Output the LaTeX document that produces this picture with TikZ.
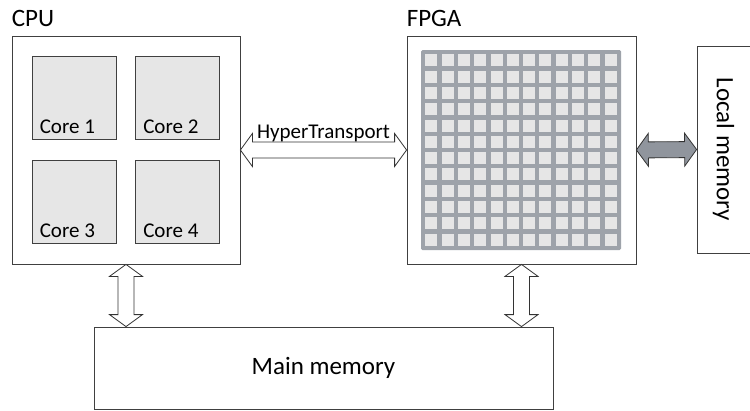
\documentclass[tikz,border=0pt]{standalone}
\usepackage{fontspec}
\setmainfont{Carlito}
\usepackage{tikz}
\usetikzlibrary{calc}
\usetikzlibrary{positioning}
\definecolor{coregray}{RGB}{230,230,230}
\definecolor{gridgray}{RGB}{158,163,170}
\definecolor{linkgray}{RGB}{144,149,157}
\def\headlen{12pt}
\def\headwd{16.5pt}
\def\shaftwd{8pt}
\tikzset{basic/.style={draw=black!75,line width=0.8pt,inner sep=0pt}}
\tikzset{chip/.style={basic,fill=white,minimum width=228pt,minimum height=228pt}}
\tikzset{core/.style={basic,fill=coregray,minimum width=84pt,minimum height=83pt}}
\tikzset{fat arrow/.style={draw=black!80,line width=0.8pt,fill=white,
  to path={-- ($(\tikztostart)!\headlen!(\tikztotarget)!\headwd!90:(\tikztotarget)$)
           -- ($(\tikztostart)!\headlen!(\tikztotarget)!\shaftwd!90:(\tikztotarget)$)
           -- ($(\tikztotarget)!\headlen!(\tikztostart)!\shaftwd!-90:(\tikztostart)$)
           -- ($(\tikztotarget)!\headlen!(\tikztostart)!\headwd!-90:(\tikztostart)$)
           -- (\tikztotarget)
           -- ($(\tikztotarget)!\headlen!(\tikztostart)!\headwd!90:(\tikztostart)$)
           -- ($(\tikztotarget)!\headlen!(\tikztostart)!\shaftwd!90:(\tikztostart)$)
           -- ($(\tikztostart)!\headlen!(\tikztotarget)!\shaftwd!-90:(\tikztotarget)$)
           -- ($(\tikztostart)!\headlen!(\tikztotarget)!\headwd!-90:(\tikztotarget)$)
           -- cycle}}}

\begin{document}
\begin{tikzpicture}[x=1pt,y=-1pt]
    \tikzstyle{title}=[font=\fontsize{25}{30}\selectfont,inner sep=0pt]
    \tikzstyle{small}=[font=\fontsize{21}{25}\selectfont,inner sep=0pt]
    \useasboundingbox (0,0) rectangle (750,410);

    % Draw the CPU with its four cores
    \node[chip] (cpu) at (126,150) {};
    \node[title, above right=9pt and 0pt of cpu.north west] (cpu-label) {CPU};
    \foreach \name / \x / \y in {1/74/98,2/177.5/98,3/74/201.5,4/177.5/201.5}
        \node[core, label={[small,anchor=base west,xshift=8pt,yshift=6pt]south west:Core \name}]
            (core-\name) at (\x,\y) {};

    % Draw the FPGA and its fabric
    \node[chip, minimum width=229pt] (fpga) at (521.5,150) {};
    \node[title, above right=9pt and 0pt of fpga.north west] (fpga-label) {FPGA};
    \fill[gridgray, rounded corners=1.5pt] (421,50) rectangle (621,250);
    \foreach \i in {0,...,11}
        \foreach \j in {0,...,11}
            \fill[coregray] (425.3+16.3*\i,54.3+16.3*\j) rectangle ++(12,12);

    % Draw the memories
    \node[basic, minimum width=53pt, minimum height=207pt,
          label={[title,rotate=-90]center:Local memory}] (local) at (723.5,149.5) {};
    \node[basic, title, minimum width=459pt, minimum height=82pt] (mem) at (323.5,368) {Main memory};

    % Connect the chips with each other and with the memories
    \draw[fat arrow] (cpu.east) to (fpga.west);
    \node[small, anchor=base, yshift=12pt] (ht-label) at ($(cpu.east)!0.5!(fpga.west)$) {HyperTransport};
    \draw[fat arrow, fill=linkgray] (fpga.east) to (local.west);
    \draw[fat arrow] (cpu.south) to (cpu.south |- mem.north);
    \draw[fat arrow] (fpga.south) to (fpga.south |- mem.north);
\end{tikzpicture}
\end{document}
